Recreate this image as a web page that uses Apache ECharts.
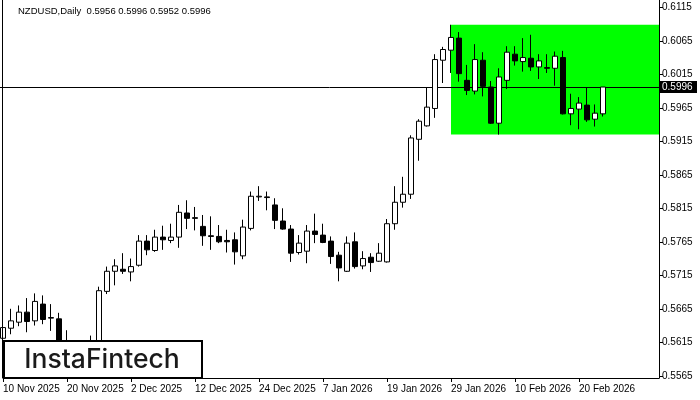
<!DOCTYPE html>
<html>
<head>
<meta charset="utf-8">
<script src="https://cdn.jsdelivr.net/npm/echarts@6/dist/echarts.min.js"></script>
<style>
html,body{margin:0;padding:0;background:#fff;}
#c{width:700px;height:400px;}
</style>
</head>
<body>
<div id="c"></div>
<script>
var symbolName = 'NZDUSD';
var timeframe = 'Daily';
var dates = ['10 Nov 2025','11 Nov 2025','12 Nov 2025','13 Nov 2025','14 Nov 2025','17 Nov 2025','18 Nov 2025','19 Nov 2025',
 '20 Nov 2025','21 Nov 2025','24 Nov 2025','25 Nov 2025','26 Nov 2025','27 Nov 2025','28 Nov 2025','1 Dec 2025',
 '2 Dec 2025','3 Dec 2025','4 Dec 2025','5 Dec 2025','8 Dec 2025','9 Dec 2025','10 Dec 2025','11 Dec 2025',
 '12 Dec 2025','15 Dec 2025','16 Dec 2025','17 Dec 2025','18 Dec 2025','19 Dec 2025','22 Dec 2025','23 Dec 2025',
 '24 Dec 2025','26 Dec 2025','29 Dec 2025','30 Dec 2025','31 Dec 2025','2 Jan 2026','5 Jan 2026','6 Jan 2026',
 '7 Jan 2026','8 Jan 2026','9 Jan 2026','12 Jan 2026','13 Jan 2026','14 Jan 2026','15 Jan 2026','16 Jan 2026',
 '19 Jan 2026','20 Jan 2026','21 Jan 2026','22 Jan 2026','23 Jan 2026','26 Jan 2026','27 Jan 2026','28 Jan 2026',
 '29 Jan 2026','30 Jan 2026','2 Feb 2026','3 Feb 2026','4 Feb 2026','5 Feb 2026','6 Feb 2026','9 Feb 2026',
 '10 Feb 2026','11 Feb 2026','12 Feb 2026','13 Feb 2026','16 Feb 2026','17 Feb 2026','18 Feb 2026','19 Feb 2026',
 '20 Feb 2026','23 Feb 2026','24 Feb 2026','25 Feb 2026'];
var futureDates = ['26 Feb 2026','27 Feb 2026','2 Mar 2026','3 Mar 2026','4 Mar 2026','5 Mar 2026','6 Mar 2026'];
var labeledDates = ['10 Nov 2025','20 Nov 2025','2 Dec 2025','12 Dec 2025','24 Dec 2025','7 Jan 2026','19 Jan 2026','29 Jan 2026','10 Feb 2026','20 Feb 2026'];

var opens = [0.5621,0.5636,0.5645,0.5660,0.5647,0.5672,0.5651,0.5650,0.5610,0.5600,0.5596,0.5605,0.5610,0.5691,0.5721,0.5724,
 0.5720,0.5730,0.5766,0.5752,0.5772,0.5767,0.5772,0.5808,0.5801,0.5788,0.5774,0.5773,0.5767,0.5768,0.5744,0.5785,
 0.5832,0.5832,0.5820,0.5796,0.5784,0.5749,0.5751,0.5781,0.5775,0.5766,0.5745,0.5721,0.5765,0.5729,0.5742,0.5736,
 0.5735,0.5792,0.5824,0.5836,0.5918,0.5938,0.5964,0.6036,0.6051,0.6069,0.6006,0.5990,0.6036,0.5996,0.5942,0.6006,
 0.6045,0.6034,0.6039,0.6026,0.6025,0.6024,0.6040,0.5956,0.5963,0.5969,0.5948,0.5956];
var highs = [0.5647,0.5665,0.5670,0.5681,0.5688,0.5685,0.5672,0.5659,0.5633,0.5614,0.5612,0.5625,0.5698,0.5728,0.5739,0.5748,
 0.5740,0.5775,0.5775,0.5783,0.5789,0.5792,0.5820,0.5827,0.5817,0.5805,0.5803,0.5790,0.5783,0.5779,0.5798,0.5840,
 0.5848,0.5840,0.5830,0.5815,0.5790,0.5775,0.5790,0.5807,0.5792,0.5773,0.5750,0.5773,0.5779,0.5751,0.5748,0.5763,
 0.5799,0.5848,0.5862,0.5924,0.5948,0.5996,0.6045,0.6056,0.6089,0.6078,0.6029,0.6060,0.6048,0.6005,0.6024,0.6057,
 0.6057,0.6069,0.6074,0.6045,0.6045,0.6049,0.6050,0.5986,0.5981,0.5996,0.5970,0.5996];
var lows = [0.5614,0.5627,0.5639,0.5630,0.5640,0.5642,0.5632,0.5600,0.5588,0.5585,0.5580,0.5592,0.5604,0.5687,0.5700,0.5717,
 0.5706,0.5728,0.5745,0.5750,0.5753,0.5763,0.5756,0.5784,0.5782,0.5759,0.5753,0.5763,0.5749,0.5731,0.5739,0.5782,
 0.5826,0.5812,0.5784,0.5783,0.5735,0.5746,0.5733,0.5763,0.5763,0.5732,0.5706,0.5720,0.5725,0.5724,0.5720,0.5735,
 0.5734,0.5783,0.5816,0.5829,0.5886,0.5937,0.5950,0.6002,0.6017,0.6004,0.5984,0.5985,0.5982,0.5941,0.5925,0.5993,
 0.6028,0.6019,0.6020,0.6008,0.6017,0.5998,0.5955,0.5939,0.5933,0.5944,0.5937,0.5952];
var closes = [0.5637,0.5647,0.5660,0.5646,0.5676,0.5649,0.5652,0.5608,0.5600,0.5596,0.5605,0.5610,0.5692,0.5721,0.5729,0.5721,
 0.5728,0.5766,0.5753,0.5772,0.5768,0.5772,0.5809,0.5800,0.5800,0.5774,0.5773,0.5765,0.5765,0.5750,0.5787,0.5833,
 0.5833,0.5831,0.5797,0.5784,0.5748,0.5763,0.5781,0.5776,0.5764,0.5743,0.5726,0.5763,0.5728,0.5740,0.5734,0.5748,
 0.5792,0.5824,0.5836,0.5920,0.5945,0.5966,0.6037,0.6052,0.6070,0.6016,0.5991,0.6037,0.5997,0.5942,0.6011,0.6048,
 0.6035,0.6040,0.6026,0.6035,0.6024,0.6042,0.5956,0.5964,0.5972,0.5947,0.5957,0.5996];

var priceTicks = [0.5565,0.5615,0.5665,0.5715,0.5765,0.5815,0.5865,0.5915,0.5965,0.6015,0.6065,0.6115];
var yMin = 0.55617, yMax = 0.61259;
var boxStartDate = '29 Jan 2026';
var boxLow = 0.5925, boxHigh = 0.6089;

var categories = dates.concat(futureDates);
var ohlc = dates.map(function(d, i){ return [opens[i], closes[i], lows[i], highs[i]]; });
var n = dates.length;
var lastO = opens[n-1], lastH = highs[n-1], lastL = lows[n-1], lastC = closes[n-1];
var FONT = '"Liberation Sans", Arial, sans-serif';

var chart = echarts.init(document.getElementById('c'), null, {renderer: 'canvas'});
function isLabeled(idx){ return labeledDates.indexOf(categories[idx]) >= 0; }

chart.setOption({
  animation: false,
  backgroundColor: '#ffffff',
  grid: {left: 3, right: 41, top: 0, bottom: 22, containLabel: false},
  xAxis: {
    type: 'category', data: categories, boundaryGap: false,
    axisLine: {show: true, lineStyle: {color: '#000', width: 1}},
    axisTick: {show: true, length: 4, lineStyle: {color: '#000'}, interval: function(i){ return isLabeled(i); }},
    axisLabel: {show: true, color: '#000', fontFamily: FONT, fontSize: 10, align: 'left', margin: 6,
      interval: function(i){ return isLabeled(i); }},
    splitLine: {show: false}
  },
  yAxis: {
    type: 'value', position: 'right', min: yMin, max: yMax, scale: true,
    axisLine: {show: true, lineStyle: {color: '#000', width: 1}},
    axisTick: {show: true, length: 4, lineStyle: {color: '#000'}, customValues: priceTicks},
    axisLabel: {show: true, color: '#000', fontFamily: FONT, fontSize: 10, margin: 3,
      customValues: priceTicks, formatter: function(v){ return v.toFixed(4); }},
    splitLine: {show: false}
  },
  series: [
    {
      type: 'line', data: [], z: 1, silent: true,
      markArea: {
        silent: true,
        itemStyle: {color: '#00ff00', opacity: 1},
        data: [[{xAxis: boxStartDate, yAxis: boxHigh}, {xAxis: futureDates[futureDates.length-1], yAxis: boxLow}]]
      }
    },
    {
      type: 'candlestick', data: ohlc, z: 5, barWidth: 5, clip: false,
      itemStyle: {color: '#ffffff', color0: '#000000', borderColor: '#000000', borderColor0: '#000000', borderWidth: 1}
    }
  ]
});

var py = chart.convertToPixel({yAxisIndex: 0}, lastC);
var rightX = chart.convertToPixel({xAxisIndex: 0}, categories[categories.length-1]);
chart.setOption({
  graphic: [
    {type: 'line', z: 3, shape: {x1: 0, y1: Math.round(py)+0.5, x2: rightX, y2: Math.round(py)+0.5}, style: {stroke: '#000', lineWidth: 1}},
    {type: 'line', z: 10, shape: {x1: 2.5, y1: 0, x2: 2.5, y2: 378}, style: {stroke: '#000', lineWidth: 1}},
    {type: 'rect', z: 10, shape: {x: rightX + 1, y: Math.round(py) - 6, width: 37, height: 12}, style: {fill: '#000'}},
    {type: 'text', z: 11, x: rightX + 3, y: Math.round(py) + 0.5, style: {text: lastC.toFixed(4), fill: '#fff', font: '10px ' + FONT, textVerticalAlign: 'middle'}},
    {type: 'text', z: 11, x: 18, y: 6, style: {text: symbolName + ',' + timeframe + '  ' + lastO.toFixed(4) + ' ' + lastH.toFixed(4) + ' ' + lastL.toFixed(4) + ' ' + lastC.toFixed(4), fill: '#000', font: '9.5px ' + FONT}},
    {type: 'rect', z: 20, shape: {x: 4, y: 341, width: 198, height: 37}, style: {fill: '#fff', stroke: '#000', lineWidth: 2}},
    {type: 'text', z: 21, x: 102, y: 360, style: {text: 'InstaFintech', fill: '#1a1a1a', font: '500 26.5px Inter, Lato, sans-serif', textAlign: 'center', textVerticalAlign: 'middle'}}
  ]
});
</script>
</body>
</html>
